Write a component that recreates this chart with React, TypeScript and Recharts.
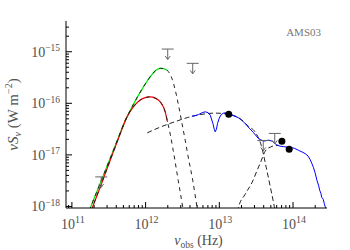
import { ComposedChart, Line, Scatter, XAxis, YAxis } from "recharts";

// all values are log10(nu_obs / Hz), log10(nu S_nu / W m^-2)
type Pair = [number, number];

const coolDust: Pair[] = [
  [11.194, -18.229], [11.316, -17.792], [11.452, -17.307], [11.588, -16.821],
  [11.7, -16.414], [11.836, -16.016], [11.971, -15.68], [12.085, -15.443],
  [12.144, -15.355], [12.198, -15.322], [12.246, -15.326], [12.289, -15.355],
  [12.357, -15.517], [12.402, -15.744], [12.449, -16.054], [12.493, -16.384],
  [12.537, -16.715], [12.578, -17.039], [12.639, -17.491], [12.7, -18.035],
  [12.727, -18.268],
];

const coldDust: Pair[] = [
  [11.228, -18.229], [11.275, -18.035], [11.384, -17.627], [11.52, -17.103],
  [11.628, -16.695], [11.746, -16.268], [11.836, -16.064], [11.927, -15.938],
  [11.995, -15.889], [12.062, -15.874], [12.13, -15.899], [12.198, -15.971],
  [12.266, -16.165], [12.297, -16.359], [12.334, -16.598], [12.374, -16.909],
  [12.442, -17.491], [12.506, -18.035], [12.531, -18.268],
];

const hotDust: Pair[] = [
  [12.022, -16.573], [12.198, -16.462], [12.402, -16.355], [12.564, -16.278],
  [12.741, -16.219], [12.944, -16.19], [13.148, -16.219], [13.283, -16.297],
  [13.392, -16.443], [13.487, -16.559], [13.568, -16.812], [13.636, -17.239],
  [13.69, -17.608], [13.745, -17.996], [13.779, -18.268],
];

const stars: Pair[] = [
  [13.229, -18.268], [13.256, -18.035], [13.351, -17.763], [13.446, -17.53],
  [13.514, -17.297], [13.555, -17.161], [13.623, -16.928], [13.69, -16.85],
  [13.799, -16.811],
];

const spectrum: Pair[] = [
  [12.628, -16.249], [12.673, -16.239], [12.718, -16.219], [12.768, -16.181],
  [12.809, -16.165], [12.849, -16.181], [12.877, -16.229], [12.913, -16.39],
  [12.931, -16.501], [12.944, -16.553], [12.961, -16.501], [12.976, -16.39],
  [12.999, -16.287], [13.026, -16.219], [13.057, -16.19], [13.094, -16.186],
  [13.125, -16.2], [13.189, -16.239], [13.256, -16.278], [13.311, -16.336],
  [13.358, -16.404], [13.406, -16.482], [13.464, -16.569], [13.532, -16.685],
  [13.6, -16.734], [13.668, -16.715], [13.718, -16.734], [13.782, -16.812],
  [13.826, -16.831], [13.871, -16.841], [13.921, -16.85], [13.962, -16.86],
  [14.016, -16.87], [14.071, -16.909], [14.121, -16.942], [14.166, -16.977],
  [14.206, -17.025], [14.233, -17.093], [14.254, -17.161], [14.278, -17.249],
  [14.301, -17.355], [14.324, -17.491], [14.346, -17.588], [14.362, -17.685],
  [14.379, -17.75], [14.389, -17.821], [14.41, -17.86], [14.423, -17.938],
  [14.437, -18.006], [14.457, -18.054],
];

const detections: Pair[] = [
  [13.128, -16.21], [13.849, -16.734], [13.948, -16.889],
];

const upperLimits: Pair[] = [
  [11.398, -17.427], [12.3, -14.948], [12.639, -15.225],
  [13.596, -16.72], [13.752, -16.584],
];

const X_DOMAIN: Pair = [10.92, 14.461];
const Y_DOMAIN: Pair = [-18.03, -14.404];
const xDecades = [10, 11, 12, 13, 14];
const yDecades = [-19, -18, -17, -16, -15];

const GRAY = "#505050";
const FONT = "'Liberation Serif', 'DejaVu Serif', serif";

const toPoints = (d: Pair[]) => d.map(([x, y]) => ({ x, y }));

const logTicks = (decades: number[], [lo, hi]: Pair) => {
  const out: number[] = [];
  decades.forEach((n) => {
    for (let k = 1; k <= 9; k++) {
      const v = n + Math.log10(k);
      if (v >= lo && v <= hi) out.push(v);
    }
  });
  return out;
};

const xTicks = logTicks(xDecades, X_DOMAIN);
const yTicks = logTicks(yDecades, Y_DOMAIN);

const isMajor = (v: number) => Math.abs(v - Math.round(v)) < 1e-6;
const sup = (n: number) => (n < 0 ? "\u2212" + Math.abs(n) : String(n));

const renderTick = (side: string) => (props: any) => {
  const { x, y, payload } = props;
  const v = payload.value;
  const major = isMajor(v);
  const len = major ? 6 : 3;
  let line;
  if (side === "bottom") line = <line x1={x} y1={y} x2={x} y2={y - len} />;
  else if (side === "top") line = <line x1={x} y1={y} x2={x} y2={y + len} />;
  else if (side === "left") line = <line x1={x} y1={y} x2={x + len} y2={y} />;
  else line = <line x1={x} y1={y} x2={x - len} y2={y} />;
  const n = Math.round(v);
  return (
    <g>
      <g stroke="#000" strokeWidth={1}>{line}</g>
      {major && side === "bottom" && (
        <text x={x + 1} y={y + 21} textAnchor="middle" fontSize={14} fontFamily={FONT} fill={GRAY}>
          10<tspan dy={-6} fontSize={10}>{sup(n)}</tspan>
        </text>
      )}
      {major && side === "left" && (
        <text x={x - 6} y={y + 5} textAnchor="end" fontSize={14} fontFamily={FONT} fill={GRAY}>
          10<tspan dy={-5.5} fontSize={9.5}>{sup(n)}</tspan>
        </text>
      )}
    </g>
  );
};

const UpperLimit = (props: any) => {
  const { cx, cy } = props;
  return (
    <g stroke="#666" strokeWidth={1} fill="none">
      <line x1={cx - 6} y1={cy} x2={cx + 6} y2={cy} />
      <line x1={cx} y1={cy} x2={cx} y2={cy + 10} />
      <polyline points={`${cx - 2.5},${cy + 7} ${cx},${cy + 10.5} ${cx + 2.5},${cy + 7}`} />
    </g>
  );
};

const Detection = (props: any) => <circle cx={props.cx} cy={props.cy} r={3.5} fill="#000" />;

const XTitle = (props: any) => {
  const vb = props.viewBox;
  return (
    <text x={vb.x + vb.width / 2 + 2} y={vb.y + 37} textAnchor="middle" fontSize={14} fontFamily={FONT} fill={GRAY}>
      <tspan fontStyle="italic">ν</tspan>
      <tspan dy={3} fontSize={9.5}>obs</tspan>
      <tspan dy={-3}> (Hz)</tspan>
    </text>
  );
};

const YTitle = (props: any) => {
  const vb = props.viewBox;
  const cx = vb.x + 18;
  const cy = vb.y + vb.height / 2;
  return (
    <text x={cx} y={cy} transform={`rotate(-90 ${cx} ${cy})`} textAnchor="middle" fontSize={15} fontFamily={FONT} fill={GRAY}>
      <tspan fontStyle="italic">νS</tspan>
      <tspan dy={3} fontSize={10} fontStyle="italic">ν</tspan>
      <tspan dy={-3}> (W m</tspan>
      <tspan dy={-6} fontSize={10}>−2</tspan>
      <tspan dy={6}>)</tspan>
    </text>
  );
};

const DASH = "5 3";
const OVERLAY_DASH = "4 4";
const axisCommon = {
  type: "number" as const,
  allowDataOverflow: true,
  interval: 0 as const,
  tickSize: 0,
  tickMargin: 0,
  tickLine: false,
  stroke: "#000",
};

export default function App() {
  const cool = toPoints(coolDust);
  const cold = toPoints(coldDust);
  return (
    <div style={{ position: "absolute", left: 0, top: 0, width: 350, height: 250, background: "#fff" }}>
      <ComposedChart width={350} height={250} margin={{ top: 21, right: 23, bottom: 0, left: 0 }}>
        <XAxis {...axisCommon} xAxisId="b" dataKey="x" domain={X_DOMAIN} ticks={xTicks} height={42}
          tick={renderTick("bottom")} label={{ content: <XTitle /> }} />
        <XAxis {...axisCommon} xAxisId="t" orientation="top" dataKey="x" domain={X_DOMAIN} ticks={xTicks} height={0}
          tick={renderTick("top")} />
        <YAxis {...axisCommon} yAxisId="l" dataKey="y" domain={Y_DOMAIN} ticks={yTicks} width={66}
          tick={renderTick("left")} label={{ content: <YTitle /> }} />
        <YAxis {...axisCommon} yAxisId="r" orientation="right" dataKey="y" domain={Y_DOMAIN} ticks={yTicks} width={0}
          tick={renderTick("right")} />

        <Line xAxisId="b" yAxisId="l" data={cool.filter((p) => p.x <= 12.29)} dataKey="y" type="monotone"
          stroke="#00ee00" strokeWidth={1.2} dot={false} isAnimationActive={false} />
        <Line xAxisId="b" yAxisId="l" data={cold.filter((p) => p.x <= 12.3)} dataKey="y" type="monotone"
          stroke="#ff0000" strokeWidth={1.2} dot={false} isAnimationActive={false} />
        <Line xAxisId="b" yAxisId="l" data={cool} dataKey="y" type="monotone"
          stroke="#222" strokeWidth={1} strokeDasharray={OVERLAY_DASH} dot={false} isAnimationActive={false} />
        <Line xAxisId="b" yAxisId="l" data={cold} dataKey="y" type="monotone"
          stroke="#222" strokeWidth={1} strokeDasharray={OVERLAY_DASH} dot={false} isAnimationActive={false} />
        <Line xAxisId="b" yAxisId="l" data={toPoints(hotDust)} dataKey="y" type="monotone"
          stroke="#222" strokeWidth={1} strokeDasharray={DASH} dot={false} isAnimationActive={false} />
        <Line xAxisId="b" yAxisId="l" data={toPoints(stars)} dataKey="y" type="monotone"
          stroke="#222" strokeWidth={1} strokeDasharray={DASH} dot={false} isAnimationActive={false} />
        <Line xAxisId="b" yAxisId="l" data={toPoints(spectrum)} dataKey="y" type="linear"
          stroke="#0000ff" strokeWidth={1} dot={false} isAnimationActive={false} />

        <Scatter xAxisId="b" yAxisId="l" data={toPoints(upperLimits)} shape={<UpperLimit />} isAnimationActive={false} />
        <Scatter xAxisId="b" yAxisId="l" data={toPoints(detections)} shape={<Detection />} isAnimationActive={false} />
      </ComposedChart>
      <svg width={350} height={250} style={{ position: "absolute", left: 0, top: 0, pointerEvents: "none" }}>
        <text x={321} y={36} textAnchor="end" fontSize={11} fontFamily={FONT} fill="#777">AMS03</text>
      </svg>
    </div>
  );
}
